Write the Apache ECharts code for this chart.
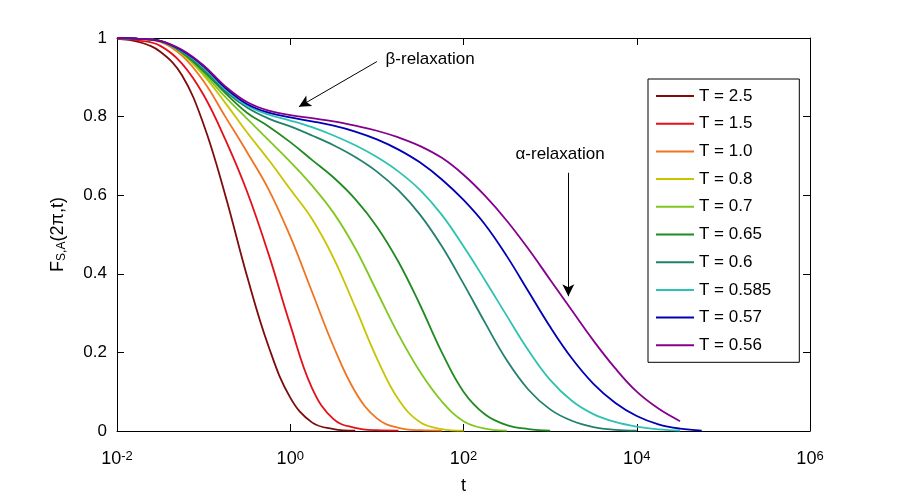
<!DOCTYPE html>
<html style="height: 100%">
<head>
    <meta charset="utf-8">
    <script src="https://cdn.jsdelivr.net/npm/echarts@6/dist/echarts.min.js"></script>
</head>
<body style="height: 100%; margin: 0; background: #fff">
    <div id="container" style="width: 897px; height: 500px"></div>
    <script type="text/javascript">
        // log10(t) grid, step 0.25 decade (the x axis is drawn in decades)
        var lgT = [-2, -1.75, -1.5, -1.25, -1, -0.75, -0.5, -0.25, 0, 0.25, 0.5, 0.75, 1, 1.25,
            1.5, 1.75, 2, 2.25, 2.5, 2.75, 3, 3.25, 3.5, 3.75, 4, 4.25, 4.5, 4.75];
        var xTickExp = [-2, 0, 2, 4, 6];

        var tempNames = ['T = 2.5', 'T = 1.5', 'T = 1.0', 'T = 0.8', 'T = 0.7',
            'T = 0.65', 'T = 0.6', 'T = 0.585', 'T = 0.57', 'T = 0.56'];

        // F_{S,A}(2pi,t)
        var f25 = [0.998, 0.99, 0.965, 0.905, 0.78, 0.6, 0.395, 0.215, 0.085, 0.022, 0.005, 0.001];
        var f15 = [0.999, 0.994, 0.98, 0.935, 0.855, 0.742, 0.61, 0.45, 0.27, 0.11, 0.03, 0.008, 0.002, 0.001];
        var f10 = [1, 0.997, 0.99, 0.955, 0.89, 0.80, 0.71, 0.615, 0.495, 0.355, 0.215, 0.1, 0.032, 0.008, 0.002, 0.001];
        var f08 = [1, 0.998, 0.992, 0.96, 0.905, 0.835, 0.76, 0.69, 0.615, 0.54, 0.44, 0.315, 0.185, 0.08, 0.022, 0.005, 0.001];
        var f07 = [1, 0.998, 0.993, 0.962, 0.91, 0.85, 0.795, 0.74, 0.685, 0.625, 0.555, 0.465, 0.355, 0.245, 0.15, 0.075, 0.025, 0.006, 0.001];
        var f065 = [1, 0.998, 0.993, 0.963, 0.915, 0.86, 0.81, 0.775, 0.735, 0.69, 0.645, 0.59, 0.52, 0.43, 0.32, 0.2, 0.1, 0.042, 0.015, 0.005, 0.001];
        var f06 = [1, 0.998, 0.992, 0.965, 0.92, 0.865, 0.823, 0.795, 0.775, 0.752, 0.727, 0.697, 0.66, 0.612, 0.55, 0.47, 0.375, 0.275, 0.18, 0.105, 0.055, 0.026, 0.01, 0.003, 0.001];
        var f0585 = [1, 0.998, 0.992, 0.967, 0.925, 0.87, 0.828, 0.805, 0.79, 0.773, 0.752, 0.727, 0.697, 0.66, 0.613, 0.55, 0.47, 0.383, 0.293, 0.205, 0.13, 0.077, 0.043, 0.023, 0.011, 0.004, 0.001];
        var f057 = [1, 0.998, 0.992, 0.968, 0.928, 0.873, 0.832, 0.81, 0.798, 0.788, 0.777, 0.762, 0.742, 0.716, 0.683, 0.64, 0.588, 0.525, 0.445, 0.355, 0.265, 0.185, 0.12, 0.072, 0.038, 0.017, 0.006, 0.001];
        var f056 = [1, 0.998, 0.993, 0.97, 0.93, 0.877, 0.837, 0.815, 0.804, 0.796, 0.788, 0.777, 0.764, 0.747, 0.725, 0.695, 0.652, 0.598, 0.535, 0.463, 0.385, 0.307, 0.23, 0.16, 0.1, 0.057, 0.025];

        var allF = [f25, f15, f10, f08, f07, f065, f06, f0585, f057, f056];
        var colors = ['#7d0c0c', '#e3101a', '#f07420', '#c8c400', '#80c820',
            '#1f8a1f', '#22806e', '#2ec2b0', '#0000b4', '#85008f'];

        // annotations: [log10 t, F]
        var betaArrow = [[1.0, 0.94], [0.1, 0.825]];
        var betaText = [1.1, 0.947];
        var alphaArrow = [[3.21, 0.657], [3.21, 0.343]];
        var alphaText = [2.6, 0.704];

        var FONT = '"Liberation Sans", Arial, sans-serif';

        var series = allF.map(function (vals, i) {
            return {
                name: tempNames[i],
                type: 'line',
                data: vals.map(function (v, j) { return [lgT[j], v]; }),
                showSymbol: false,
                smooth: 0.4,
                lineStyle: { color: colors[i], width: 1.8 },
                itemStyle: { color: colors[i] },
                z: 2 + i
            };
        });

        // arrows and labels ride on the last series
        series[series.length - 1].markLine = {
            silent: true,
            symbol: ['none', 'arrow'],
            symbolSize: [9, 12],
            label: { show: false },
            lineStyle: { color: '#000', width: 1, type: 'solid' },
            data: [
                [{ coord: betaArrow[0] }, { coord: betaArrow[1] }],
                [{ coord: alphaArrow[0] }, { coord: alphaArrow[1] }]
            ]
        };
        series[series.length - 1].markPoint = {
            silent: true,
            symbol: 'circle',
            symbolSize: 0,
            label: {
                show: true, position: 'right', distance: 0,
                color: '#000', fontSize: 17, fontFamily: FONT,
                formatter: function (p) { return p.name; }
            },
            data: [
                { name: 'β-relaxation', coord: betaText },
                { name: 'α-relaxation', coord: alphaText }
            ]
        };

        var axisCommonX = {
            type: 'value',
            min: xTickExp[0],
            max: xTickExp[xTickExp.length - 1],
            interval: xTickExp[1] - xTickExp[0],
            splitLine: { show: false },
            axisLine: { show: true, onZero: false, lineStyle: { color: '#000', width: 1 } },
            axisTick: { show: true, inside: true, length: 7, lineStyle: { color: '#000' } }
        };
        var axisCommonY = {
            type: 'value',
            min: 0,
            max: 1,
            interval: 0.2,
            splitLine: { show: false },
            axisLine: { show: true, onZero: false, lineStyle: { color: '#000', width: 1 } },
            axisTick: { show: true, inside: true, length: 7, lineStyle: { color: '#000' } }
        };

        var dom = document.getElementById('container');
        var myChart = echarts.init(dom);
        var option = {
            animation: false,
            backgroundColor: '#fff',
            textStyle: { fontFamily: FONT },
            grid: { left: 117, right: 87, top: 38, bottom: 63 },
            legend: {
                orient: 'vertical',
                left: 648,
                top: 79,
                padding: [7, 28, 7, 8],
                itemGap: 7.7,
                itemWidth: 38,
                itemHeight: 2,
                icon: 'rect',
                borderColor: '#000',
                borderWidth: 1,
                backgroundColor: '#fff',
                textStyle: { color: '#000', fontSize: 17, lineHeight: 20, fontFamily: FONT },
                data: tempNames
            },
            xAxis: [
                Object.assign({}, axisCommonX, {
                    position: 'bottom',
                    name: 't',
                    nameLocation: 'middle',
                    nameGap: 46,
                    nameTextStyle: { color: '#000', fontSize: 18, fontFamily: FONT },
                    axisLabel: {
                        show: true,
                        margin: 19,
                        showMinLabel: true,
                        showMaxLabel: true,
                        color: '#000',
                        formatter: function (v) {
                            return '{b|10}{s|' + v + '}';
                        },
                        rich: {
                            b: { fontSize: 18, fontFamily: FONT, color: '#000', verticalAlign: 'bottom', lineHeight: 18, padding: [8, 0, 0, 0] },
                            s: { fontSize: 13, fontFamily: FONT, color: '#000', verticalAlign: 'top', lineHeight: 13 }
                        }
                    }
                }),
                Object.assign({}, axisCommonX, {
                    position: 'top',
                    axisLabel: { show: false }
                })
            ],
            yAxis: [
                Object.assign({}, axisCommonY, {
                    position: 'left',
                    name: '{a|F}{s|S,A}{a|(2π,t)}',
                    nameLocation: 'middle',
                    nameRotate: 90,
                    nameGap: 48,
                    nameTextStyle: {
                        rich: {
                            a: { fontSize: 18, fontFamily: FONT, color: '#000', verticalAlign: 'top', lineHeight: 18, padding: [0, 0, 5, 0] },
                            s: { fontSize: 12, fontFamily: FONT, color: '#000', verticalAlign: 'bottom', lineHeight: 12 }
                        }
                    },
                    axisLabel: { show: true, margin: 10, color: '#000', fontSize: 17, fontFamily: FONT }
                }),
                Object.assign({}, axisCommonY, {
                    position: 'right',
                    axisLabel: { show: false }
                })
            ],
            series: series
        };
        if (option && typeof option === 'object') {
            myChart.setOption(option, true);
        }
    </script>
</body>
</html>
